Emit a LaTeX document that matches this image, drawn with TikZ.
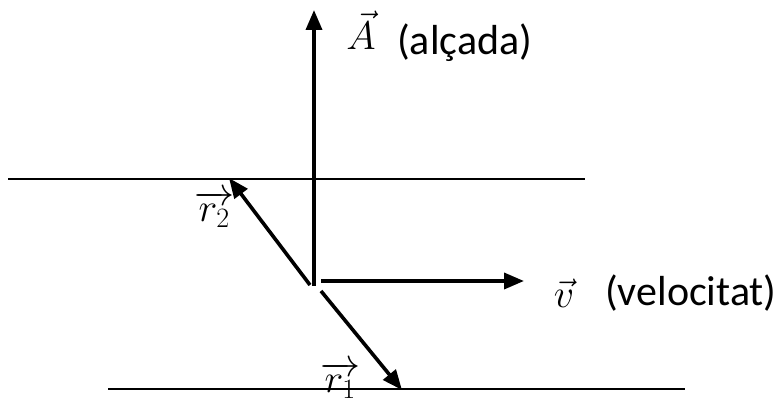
\RequirePackage{fix-cm}
\documentclass[tikz,border=0pt]{standalone}
\usepackage{fontspec}
\setmainfont{Carlito}
\usetikzlibrary{arrows.meta}
\begin{document}
\begin{tikzpicture}[x=1pt,y=-1pt,
  thinline/.style={line width=1.6pt},
  vecarrow/.style={line width=3.6pt,-{Triangle[length=20pt,width=16pt]}},
  lbl/.style={inner sep=0pt,anchor=base west,font=\fontsize{42}{48}\selectfont},
  mlbl/.style={inner sep=0pt,font=\fontsize{40}{46}\selectfont}]
\useasboundingbox (0,0) rectangle (780,403);
% lines
\coordinate (t1) at (8,179);
\coordinate (t2) at (585,179);
\coordinate (b1) at (108,389);
\coordinate (b2) at (685,389);
\draw[thinline] (t1) -- (t2);
\draw[thinline] (b1) -- (b2);
% vectors
\coordinate (oA) at (314,286);
\coordinate (tA) at (314,10);
\coordinate (ov) at (321,281);
\coordinate (tv) at (524,281);
\coordinate (or2) at (310,285);
\coordinate (tr2) at (229,178);
\coordinate (or1) at (321,291);
\coordinate (tr1) at (402,390);
\draw[vecarrow] (oA) -- (tA);
\draw[vecarrow] (ov) -- (tv);
\draw[vecarrow] (or2) -- (tr2);
\draw[vecarrow] (or1) -- (tr1);
% labels
\node[mlbl,anchor=base] (lA) at (361,50) {$\vec{A}$};
\node[lbl] (lalc) at (397,55) {(alçada)};
\node[mlbl,anchor=base] (lv) at (564,308) {$\vec{v}$};
\node[lbl] (lvel) at (605,306) {(velocitat)};
\node[mlbl,anchor=base west] (lr2) at (194,222) {$\overrightarrow{r_2}$};
\node[mlbl,anchor=base west] (lr1) at (320,393) {$\overrightarrow{r_1}$};
\end{tikzpicture}
\end{document}
